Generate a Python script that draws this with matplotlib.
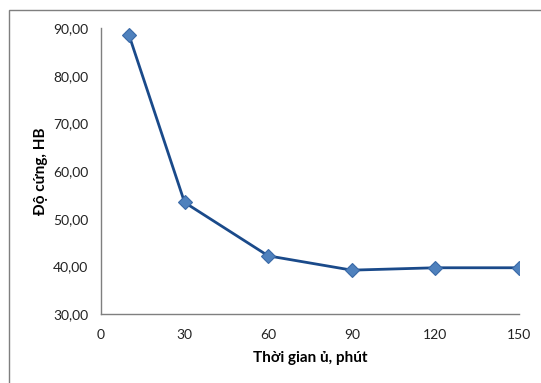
import matplotlib
matplotlib.use("Agg")
import matplotlib.pyplot as plt
from matplotlib.patches import Rectangle
from matplotlib.ticker import FuncFormatter

time_min = [10, 30, 60, 90, 120, 150]
hardness_hb = [88.6, 53.4, 42.2, 39.2, 39.7, 39.7]
hardness_err = [0.6, 0.6, 0.6, 0.6, 0.6, 0.6]
x_ticks = [0, 30, 60, 90, 120, 150]
y_ticks = [30, 40, 50, 60, 70, 80, 90]

plt.rcParams['font.family'] = ['Lato', 'Noto Sans', 'DejaVu Sans']

fig = plt.figure(figsize=(5.41, 3.83), dpi=100)
ax = fig.add_axes([101/541, 1-314/383, (519-101)/541, (314-28)/383])

fig.patches.append(Rectangle((9/541, -0.1), 1.2, 1-10/383+0.1, transform=fig.transFigure,
                             fill=False, edgecolor='#7f7f7f', linewidth=1.0))

ax.errorbar(time_min, hardness_hb, yerr=hardness_err, fmt='none', ecolor='black',
            elinewidth=0.8, capsize=3, capthick=0.8, zorder=2)
ax.plot(time_min, hardness_hb, color='#1a4a8a', linewidth=2.0, marker='D',
        markersize=7, markerfacecolor='#4f81bd', markeredgecolor='#3a6aa8',
        markeredgewidth=0.8, zorder=3)

ax.set_xlim(0, 150)
ax.set_ylim(30, 90)
ax.set_xticks(x_ticks)
ax.set_yticks(y_ticks)
ax.yaxis.set_major_formatter(FuncFormatter(lambda v, p: f"{v:.2f}".replace('.', ',')))
ax.tick_params(length=0, labelsize=10, colors='#222222')
ax.tick_params(axis='x', pad=11)
ax.tick_params(axis='y', pad=9)
for s in ['top', 'right']:
    ax.spines[s].set_visible(False)
for s in ['left', 'bottom']:
    ax.spines[s].set_color('#7f7f7f')
    ax.spines[s].set_linewidth(1.0)

ax.set_xlabel('Thời gian ủ, phút', fontsize=11, fontweight='bold', labelpad=7)
ax.set_ylabel('Độ cứng, HB', fontsize=11, fontweight='bold', labelpad=4)

fig.savefig('out.png', dpi=100)
